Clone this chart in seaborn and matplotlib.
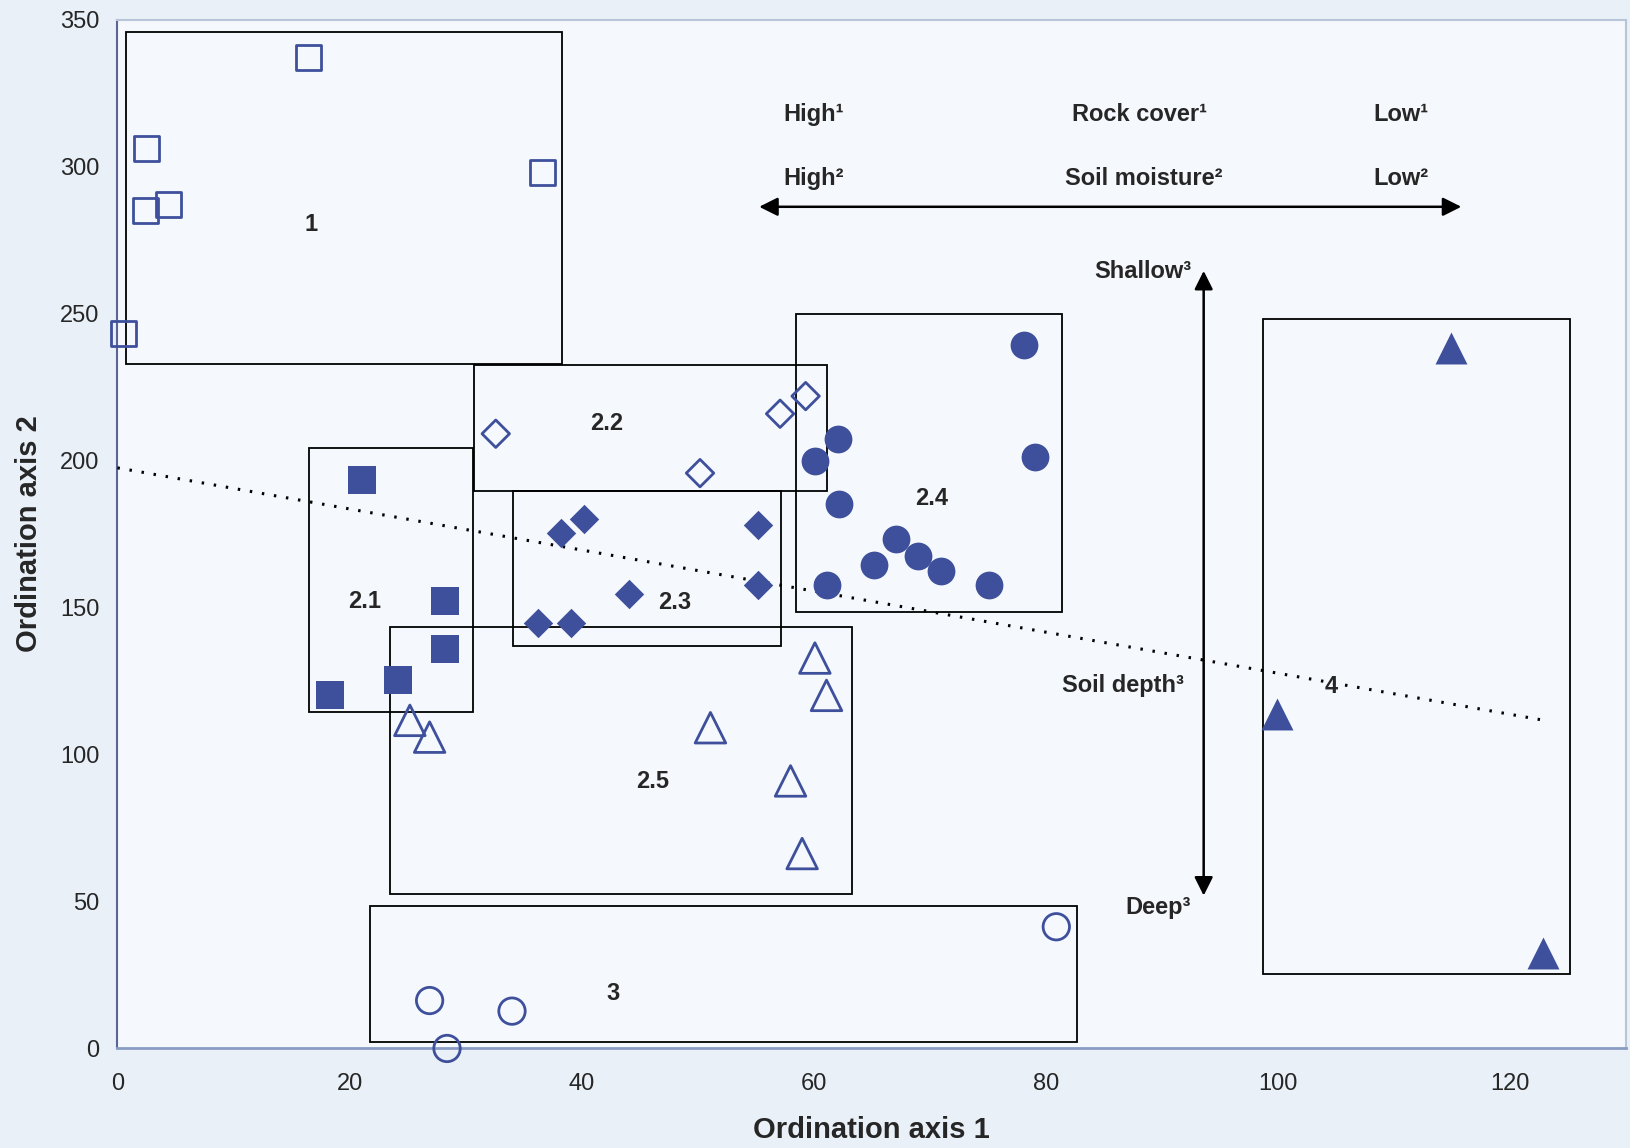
import numpy as np
import pandas as pd
import matplotlib
matplotlib.use("Agg")
import matplotlib.pyplot as plt
from matplotlib.patches import Rectangle
import seaborn as sns

# point coordinates per group
g1_x = [16.5, 2.5, 2.4, 4.4, 36.6, 0.5]
g1_y = [337.2, 306.1, 285.2, 287.0, 297.9, 243.1]
g21_x = [21.1, 28.2, 28.2, 24.2, 18.3]
g21_y = [193.2, 152.2, 135.9, 125.3, 120.3]
g22_x = [32.6, 50.2, 57.1, 59.3]
g22_y = [209.1, 195.7, 215.9, 221.9]
g23_x = [38.2, 40.2, 55.2, 44.1, 55.2, 36.2, 39.1]
g23_y = [175.5, 180.1, 178.0, 154.6, 157.5, 144.7, 144.7]
g24_x = [78.1, 62.1, 60.1, 79.1, 62.2, 67.1, 69.0, 71.0, 65.2, 61.1, 75.1]
g24_y = [239.2, 207.4, 199.9, 201.3, 185.1, 173.4, 167.4, 162.4, 164.5, 157.5, 157.5]
g25_x = [25.2, 26.9, 60.1, 61.1, 51.1, 58.0, 59.0]
g25_y = [111.6, 105.9, 132.8, 120.1, 109.1, 91.0, 66.3]
g3_x = [26.9, 34.0, 28.4, 80.9]
g3_y = [16.3, 12.7, 0.0, 41.4]
g4_x = [114.9, 99.9, 122.8]
g4_y = [238.4, 113.9, 32.5]

# boxes: label, x0, x1, y0, y1, label x, label y
box_names = ["1", "2.1", "2.2", "2.3", "2.4", "2.5", "3", "4"]
box_x0 = [0.7, 16.5, 30.7, 34.1, 58.5, 23.5, 21.8, 98.7]
box_x1 = [38.3, 30.6, 61.1, 57.2, 81.4, 63.3, 82.7, 125.2]
box_y0 = [232.8, 114.3, 189.7, 136.9, 148.3, 52.4, 2.1, 25.5]
box_y1 = [345.7, 204.2, 232.5, 189.7, 249.8, 143.3, 48.5, 248.1]
lab_x = [16.7, 21.3, 42.2, 48.0, 70.2, 46.1, 42.7, 104.6]
lab_y = [280.3, 152.2, 212.7, 151.8, 187.2, 90.9, 18.8, 123.1]

# dotted trend line
trend_x = [0.0, 123.1]
trend_y = [197.5, 111.5]

blue = "#3e509c"
groups = [
    (g1_x, g1_y, "s", 18, False),
    (g21_x, g21_y, "s", 19.5, True),
    (g22_x, g22_y, "D", 14, False),
    (g23_x, g23_y, "D", 15, True),
    (g24_x, g24_y, "o", 20, True),
    (g25_x, g25_y, "^", 22, False),
    (g3_x, g3_y, "o", 19, False),
    (g4_x, g4_y, "^", 23, True),
]

sns.set_style("white")
plt.rcParams["font.family"] = ["Liberation Sans", "DejaVu Sans"]

fig = plt.figure(figsize=(16.31, 11.48), dpi=100)
fig.patch.set_facecolor("#e9f0f8")
ax = fig.add_axes([0.072, 0.0867, 0.925, 0.8963])
ax.set_facecolor("#f5f8fc")

for x0, x1, y0, y1 in zip(box_x0, box_x1, box_y0, box_y1):
    ax.add_patch(Rectangle((x0, y0), x1 - x0, y1 - y0, fill=False,
                           edgecolor="black", linewidth=1.3, zorder=2))
for name, lx, ly in zip(box_names, lab_x, lab_y):
    ax.text(lx, ly, name, ha="center", va="center", fontsize=17,
            fontweight="bold", zorder=4)

sns.lineplot(x=trend_x, y=trend_y, ax=ax, color="black", linewidth=2.2,
             linestyle=(0, (0.8, 3.2)), zorder=3)

for gx, gy, m, ms, filled in groups:
    sns.scatterplot(x=gx, y=gy, ax=ax, marker=m, s=ms ** 2, color=blue,
                    edgecolor=blue, linewidth=0 if filled else 2.0,
                    zorder=5, legend=False, clip_on=False)
    if not filled:
        ax.collections[-1].set_facecolor("none")

# gradient arrows and their texts
arrow_kw = dict(arrowstyle="<|-|>", color="black", lw=1.8, mutation_scale=28,
                shrinkA=0, shrinkB=0)
ax.annotate("", xy=(55.3, 286.3), xytext=(115.8, 286.3), arrowprops=arrow_kw)
ax.annotate("", xy=(93.6, 264.5), xytext=(93.6, 52.0), arrowprops=arrow_kw)

txt = dict(fontsize=17, fontweight="bold", va="center")
ax.text(57.4, 317.8, "High¹", ha="left", **txt)
ax.text(88.1, 317.8, "Rock cover¹", ha="center", **txt)
ax.text(108.2, 317.8, "Low¹", ha="left", **txt)
ax.text(57.4, 295.8, "High²", ha="left", **txt)
ax.text(88.4, 295.8, "Soil moisture²", ha="center", **txt)
ax.text(108.2, 295.8, "Low²", ha="left", **txt)
ax.text(92.5, 264.3, "Shallow³", ha="right", **txt)
ax.text(86.6, 123.5, "Soil depth³", ha="center", **txt)
ax.text(92.5, 48.1, "Deep³", ha="right", **txt)

ax.set_xlim(0, 130)
ax.set_ylim(0, 350)
ax.set_xticks(np.arange(0, 121, 20))
ax.set_yticks(np.arange(0, 351, 50))
ax.tick_params(axis="both", labelsize=17, length=4, width=1, color="#7080b0",
               direction="out")
ax.tick_params(axis="x", pad=14)
ax.tick_params(axis="y", pad=9)
for s in ["top", "right"]:
    ax.spines[s].set_color("#b8c4d8")
    ax.spines[s].set_linewidth(1.5)
ax.spines["left"].set_color("#5a6590")
ax.spines["bottom"].set_color("#8a9cc4")
ax.spines["left"].set_linewidth(1.5)
ax.spines["bottom"].set_linewidth(2)

ax.set_xlabel("Ordination axis 1", fontsize=21, fontweight="bold", labelpad=15)
ax.set_ylabel("Ordination axis 2", fontsize=21, fontweight="bold", labelpad=12)

fig.savefig("out.png", dpi=100, facecolor=fig.get_facecolor())
